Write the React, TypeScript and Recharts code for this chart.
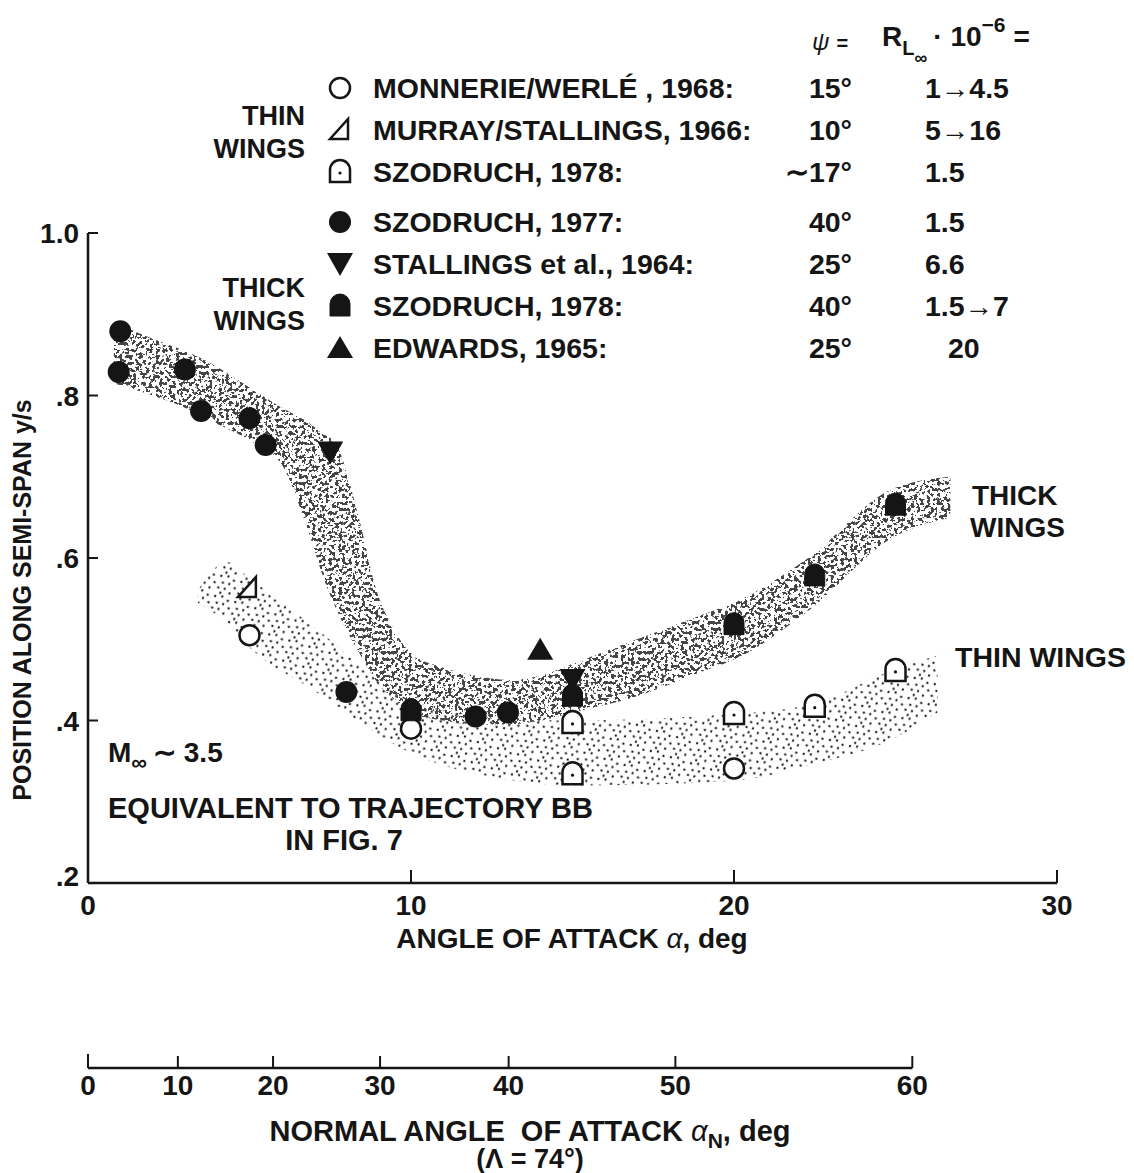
import { Area, ComposedChart, ReferenceLine, Scatter, XAxis, YAxis } from "recharts";

const W = 1134;
const H = 1173;
const FONT = "'Liberation Sans', Arial, Helvetica, sans-serif";
const INK = "#151515";

const X_DOMAIN: [number, number] = [0, 30];
const Y_DOMAIN: [number, number] = [0.2, 1.0];
const X_TICKS = [0, 10, 20, 30];
const Y_TICKS = [0.2, 0.4, 0.6, 0.8, 1.0];
const Y_TICK_LABELS = [".2", ".4", ".6", ".8", "1.0"];

// second scale: normal angle of attack for a sweep of 74 deg
const SWEEP_DEG = 74;
const NORMAL_TICKS = [0, 10, 20, 30, 40, 50, 60];

// stippled bands, alpha (deg) with lower / upper edge of y/s
const THICK_ALPHA = [0.8, 2, 3, 4, 5, 6, 6.7, 7.4, 7.6, 8.4, 8.9, 9.5, 10, 11, 12, 13, 14, 15, 17, 19, 20, 22.3, 24.9, 26.7];
const THICK_LOW = [0.815, 0.8, 0.785, 0.765, 0.745, 0.715, 0.647, 0.564, 0.545, 0.483, 0.45, 0.425, 0.41, 0.4, 0.395, 0.395, 0.4, 0.41, 0.43, 0.46, 0.475, 0.535, 0.625, 0.65];
const THICK_HIGH = [0.89, 0.87, 0.855, 0.835, 0.81, 0.785, 0.77, 0.75, 0.745, 0.647, 0.564, 0.51, 0.483, 0.465, 0.455, 0.45, 0.455, 0.47, 0.5, 0.53, 0.545, 0.6, 0.685, 0.7];

const THIN_ALPHA = [3.4, 4.3, 5, 7, 10, 13, 15, 20, 22.4, 24.9, 26.3];
const THIN_LOW = [0.545, 0.52, 0.49, 0.437, 0.36, 0.327, 0.32, 0.326, 0.346, 0.377, 0.41];
const THIN_HIGH = [0.56, 0.595, 0.575, 0.515, 0.425, 0.402, 0.4, 0.408, 0.42, 0.462, 0.48];

// measured points (a = alpha deg, v = y/s)
const MONNERIE = [{ a: 5, v: 0.505 }, { a: 10, v: 0.39 }, { a: 20, v: 0.341 }];
const MURRAY = [{ a: 4.95, v: 0.563 }];
const SZODRUCH78_THIN = [{ a: 15, v: 0.397 }, { a: 15, v: 0.334 }, { a: 20, v: 0.408 }, { a: 22.5, v: 0.417 }, { a: 25, v: 0.461 }];
const SZODRUCH77 = [
  { a: 1, v: 0.879 }, { a: 0.95, v: 0.829 }, { a: 3, v: 0.832 }, { a: 3.5, v: 0.781 }, { a: 5, v: 0.772 },
  { a: 5.5, v: 0.739 }, { a: 8, v: 0.435 }, { a: 12, v: 0.405 }, { a: 13, v: 0.41 },
];
const STALLINGS = [{ a: 7.5, v: 0.73 }, { a: 15, v: 0.45 }];
const SZODRUCH78_THICK = [{ a: 10, v: 0.412 }, { a: 15, v: 0.43 }, { a: 20, v: 0.518 }, { a: 22.5, v: 0.578 }, { a: 25, v: 0.665 }];
const EDWARDS = [{ a: 14, v: 0.487 }];

const LEGEND_NAMES = [
  "MONNERIE/WERLÉ , 1968:",
  "MURRAY/STALLINGS, 1966:",
  "SZODRUCH, 1978:",
  "SZODRUCH, 1977:",
  "STALLINGS et al., 1964:",
  "SZODRUCH, 1978:",
  "EDWARDS, 1965:",
];
const LEGEND_PSI = ["15°", "10°", "∼17°", "40°", "25°", "40°", "25°"];
const LEGEND_RE = ["1→4.5", "5→16", "1.5", "1.5", "6.6", "1.5→7", "20"];

type Mark = "openCircle" | "openTriangle" | "openArch" | "dot" | "downTriangle" | "filledArch" | "upTriangle";
const LEGEND_MARKS: Mark[] = ["openCircle", "openTriangle", "openArch", "dot", "downTriangle", "filledArch", "upTriangle"];

// layout
const MARGIN = { top: 233, right: 77, bottom: 0, left: 0 };
const Y_AXIS_W = 88;
const MAIN_X_H = 185;
const NORMAL_X_H = 105;
const PLOT_H = H - MARGIN.top - MARGIN.bottom - MAIN_X_H - NORMAL_X_H;

// dot positions inside one tile of the thin-wing stipple
const THIN_DOTS = [
  [2, 3], [9, 1.5], [15.5, 4], [5.5, 9], [12, 8.5], [18.5, 11], [2.5, 15], [9, 14.5], [15, 17.5], [6, 19.5],
];

const rad = Math.PI / 180;
const alphaFromNormal = (aN: number) => Math.atan(Math.tan(aN * rad) * Math.cos(SWEEP_DEG * rad)) / rad;
const NORMAL_TICK_ALPHA = NORMAL_TICKS.map(alphaFromNormal);
const NORMAL_LINE_Y = Y_DOMAIN[0] - (MAIN_X_H / PLOT_H) * (Y_DOMAIN[1] - Y_DOMAIN[0]);

const bandRows = (() => {
  const rows = new Map<number, any>();
  THICK_ALPHA.forEach((a, i) => rows.set(a, { ...(rows.get(a) ?? { a }), thick: [THICK_LOW[i], THICK_HIGH[i]] }));
  THIN_ALPHA.forEach((a, i) => rows.set(a, { ...(rows.get(a) ?? { a }), thin: [THIN_LOW[i], THIN_HIGH[i]] }));
  return Array.from(rows.values()).sort((p, q) => p.a - q.a);
})();

const txt = { fontFamily: FONT, fontWeight: 700, fill: INK } as const;

function drawMark(kind: Mark, cx: number, cy: number, key?: string | number) {
  const sw = 2.5;
  const arch = `M${cx - 10},${cy + 10} L${cx - 10},${cy - 2} A10,10 0 0 1 ${cx + 10},${cy - 2} L${cx + 10},${cy + 10} Z`;
  switch (kind) {
    case "openCircle":
      return <circle key={key} cx={cx} cy={cy} r={10} fill="#fff" stroke={INK} strokeWidth={sw} />;
    case "openTriangle":
      return (
        <path key={key} d={`M${cx - 10},${cy + 9} L${cx + 8},${cy - 11} L${cx + 8},${cy + 9} Z`} fill="#fff" stroke={INK} strokeWidth={sw} strokeLinejoin="miter" />
      );
    case "openArch":
      return (
        <g key={key}>
          <path d={arch} fill="#fff" stroke={INK} strokeWidth={sw} />
          <circle cx={cx} cy={cy + 1} r={1.6} fill={INK} />
        </g>
      );
    case "dot":
      return <circle key={key} cx={cx} cy={cy} r={11} fill={INK} />;
    case "downTriangle":
      return <path key={key} d={`M${cx - 13},${cy - 11} L${cx + 13},${cy - 11} L${cx},${cy + 12} Z`} fill={INK} />;
    case "filledArch":
      return <path key={key} d={arch} fill={INK} stroke={INK} strokeWidth={1} />;
    case "upTriangle":
      return <path key={key} d={`M${cx},${cy - 12} L${cx + 13},${cy + 10} L${cx - 13},${cy + 10} Z`} fill={INK} />;
  }
}

const markShape = (kind: Mark) => (p: any) => drawMark(kind, p.cx, p.cy);

const MainXTick = (props: any) => {
  const { x, y, payload } = props;
  return (
    <g>
      {payload.value !== 0 && <line x1={x} x2={x} y1={y} y2={y - 13} stroke={INK} strokeWidth={2} />}
      <text x={x} y={y + 32} textAnchor="middle" fontSize={28} style={txt}>
        {payload.value}
      </text>
    </g>
  );
};

const YTick = (props: any) => {
  const { x, y, index } = props;
  return (
    <g>
      {index > 0 && <line x1={x} x2={x + 10} y1={y} y2={y} stroke={INK} strokeWidth={2} />}
      <text x={x - 9} y={y + (index === 0 ? 3 : 10)} textAnchor="end" fontSize={28} style={txt}>
        {Y_TICK_LABELS[index]}
      </text>
    </g>
  );
};

const NormalTick = (props: any) => {
  const { x, y, index } = props;
  return (
    <g>
      <line x1={x} x2={x} y1={y} y2={y - (index === 0 ? 14 : 12)} stroke={INK} strokeWidth={2} />
      <text x={x} y={y + 27} textAnchor="middle" fontSize={28} style={txt}>
        {NORMAL_TICKS[index]}
      </text>
    </g>
  );
};

function LegendBlock() {
  const rowY = (i: number) => 88 + i * 42 + (i >= 3 ? 8 : 0);
  const fs = 28.5;
  return (
    <g>
      <text x={812} y={50} fontSize={24} style={txt}>
        <tspan fontStyle="italic" fontWeight={400}>ψ</tspan>
        <tspan dx={7} fontSize={20}>=</tspan>
      </text>
      <text x={882} y={46} fontSize={28} style={txt}>
        R<tspan fontSize={20} dy={9}>L</tspan>
        <tspan fontSize={18} dy={9}>∞</tspan>
        <tspan fontSize={28} dy={-18} dx={6}>· 10</tspan>
        <tspan fontSize={21} dy={-14}>−6</tspan>
        <tspan fontSize={28} dy={14} dx={8}>=</tspan>
      </text>
      {LEGEND_NAMES.map((name, i) => (
        <g key={i}>
          {drawMark(LEGEND_MARKS[i], 340, rowY(i))}
          <text x={373} y={rowY(i) + 10} fontSize={fs} style={txt}>
            {name}
          </text>
          <text x={852} y={rowY(i) + 10} fontSize={fs} textAnchor="end" style={txt}>
            {LEGEND_PSI[i]}
          </text>
          <text x={i === 6 ? 948 : 925} y={rowY(i) + 10} fontSize={fs} style={txt}>
            {LEGEND_RE[i]}
          </text>
        </g>
      ))}
      <text x={305} y={125} fontSize={27} textAnchor="end" style={txt}>THIN</text>
      <text x={305} y={158} fontSize={27} textAnchor="end" style={txt}>WINGS</text>
      <text x={305} y={297} fontSize={27} textAnchor="end" style={txt}>THICK</text>
      <text x={305} y={330} fontSize={27} textAnchor="end" style={txt}>WINGS</text>
    </g>
  );
}

export default function App() {
  return (
    <div style={{ width: W, height: H, background: "#fff" }}>
      <style>{"body{margin:0;background:#fff}"}</style>
      <ComposedChart width={W} height={H} data={bandRows} margin={MARGIN}>
        <defs>
          <filter id="thickNoise" x="0" y="0" width="100%" height="100%">
            <feTurbulence type="fractalNoise" baseFrequency="0.3" numOctaves="2" seed="11" stitchTiles="stitch" result="n" />
            <feColorMatrix in="n" type="matrix" values="0 0 0 0 0.06  0 0 0 0 0.06  0 0 0 0 0.06  -40 0 0 0 18.9" />
          </filter>
          <pattern id="thickStipple" patternUnits="userSpaceOnUse" width="256" height="256">
            <rect width="256" height="256" filter="url(#thickNoise)" />
          </pattern>
          <pattern id="thinStipple" patternUnits="userSpaceOnUse" width="21" height="21" patternTransform="rotate(17)">
            {THIN_DOTS.map(([x, y], i) => (
              <circle key={i} cx={x} cy={y} r={1.15} fill={INK} />
            ))}
          </pattern>
        </defs>

        <XAxis
          dataKey="a"
          type="number"
          domain={X_DOMAIN}
          ticks={X_TICKS}
          interval={0}
          allowDataOverflow
          height={MAIN_X_H}
          tickSize={0}
          tickMargin={0}
          tickLine={false}
          axisLine={{ stroke: INK, strokeWidth: 2.5 }}
          tick={MainXTick}
        />
        <XAxis
          xAxisId="n"
          dataKey="a"
          type="number"
          domain={X_DOMAIN}
          ticks={NORMAL_TICK_ALPHA}
          interval={0}
          allowDataOverflow
          height={NORMAL_X_H}
          tickSize={0}
          tickMargin={0}
          tickLine={false}
          axisLine={false}
          tick={NormalTick}
        />
        <YAxis
          type="number"
          domain={Y_DOMAIN}
          ticks={Y_TICKS}
          interval={0}
          allowDataOverflow
          width={Y_AXIS_W}
          tickSize={0}
          tickMargin={0}
          tickLine={false}
          axisLine={{ stroke: INK, strokeWidth: 2.5 }}
          tick={YTick}
        />

        <Area dataKey="thin" type="monotone" connectNulls stroke="none" fill="url(#thinStipple)" fillOpacity={1} isAnimationActive={false} activeDot={false} />
        <Area dataKey="thick" type="monotone" connectNulls stroke="none" fill="url(#thickStipple)" fillOpacity={1} isAnimationActive={false} activeDot={false} />

        <ReferenceLine
          segment={[
            { x: 0, y: NORMAL_LINE_Y },
            { x: NORMAL_TICK_ALPHA[NORMAL_TICK_ALPHA.length - 1], y: NORMAL_LINE_Y },
          ]}
          ifOverflow="visible"
          stroke={INK}
          strokeWidth={2.5}
        />

        <Scatter name="MONNERIE/WERLÉ, 1968" data={MONNERIE} dataKey="v" shape={markShape("openCircle")} isAnimationActive={false} />
        <Scatter name="MURRAY/STALLINGS, 1966" data={MURRAY} dataKey="v" shape={markShape("openTriangle")} isAnimationActive={false} />
        <Scatter name="SZODRUCH, 1978 (thin)" data={SZODRUCH78_THIN} dataKey="v" shape={markShape("openArch")} isAnimationActive={false} />
        <Scatter name="SZODRUCH, 1977" data={SZODRUCH77} dataKey="v" shape={markShape("dot")} isAnimationActive={false} />
        <Scatter name="STALLINGS et al., 1964" data={STALLINGS} dataKey="v" shape={markShape("downTriangle")} isAnimationActive={false} />
        <Scatter name="SZODRUCH, 1978 (thick)" data={SZODRUCH78_THICK} dataKey="v" shape={markShape("filledArch")} isAnimationActive={false} />
        <Scatter name="EDWARDS, 1965" data={EDWARDS} dataKey="v" shape={markShape("upTriangle")} isAnimationActive={false} />

        <LegendBlock />

        <text x={22} y={600} transform="rotate(-90 22 600)" textAnchor="middle" dominantBaseline="central" fontSize={25} style={txt}>
          POSITION ALONG SEMI-SPAN y/s
        </text>
        <text x={572} y={948} textAnchor="middle" fontSize={28} style={txt}>
          ANGLE OF ATTACK <tspan fontStyle="italic" fontWeight={400}>α</tspan>, deg
        </text>
        <text x={530} y={1141} textAnchor="middle" fontSize={29} style={txt}>
          {"NORMAL ANGLE\u00a0 OF ATTACK "}
          <tspan fontStyle="italic" fontWeight={400}>α</tspan>
          <tspan fontSize={21} dy={7}>N</tspan>
          <tspan dy={-7}>, deg</tspan>
        </text>
        <text x={530} y={1168} textAnchor="middle" fontSize={27} style={txt}>
          (Λ = 74°)
        </text>

        <text x={972} y={505} fontSize={28} style={txt}>THICK</text>
        <text x={970} y={537} fontSize={28} style={txt}>WINGS</text>
        <text x={955} y={667} fontSize={28.5} style={txt}>THIN WINGS</text>

        <text x={108} y={762} fontSize={28} style={txt}>
          M<tspan fontSize={22} dy={8}>∞</tspan>
          <tspan dy={-8} dx={6}>∼ 3.5</tspan>
        </text>
        <text x={108} y={818} fontSize={29} style={txt}>EQUIVALENT TO TRAJECTORY BB</text>
        <text x={344} y={850} textAnchor="middle" fontSize={29} style={txt}>IN FIG. 7</text>
      </ComposedChart>
    </div>
  );
}
